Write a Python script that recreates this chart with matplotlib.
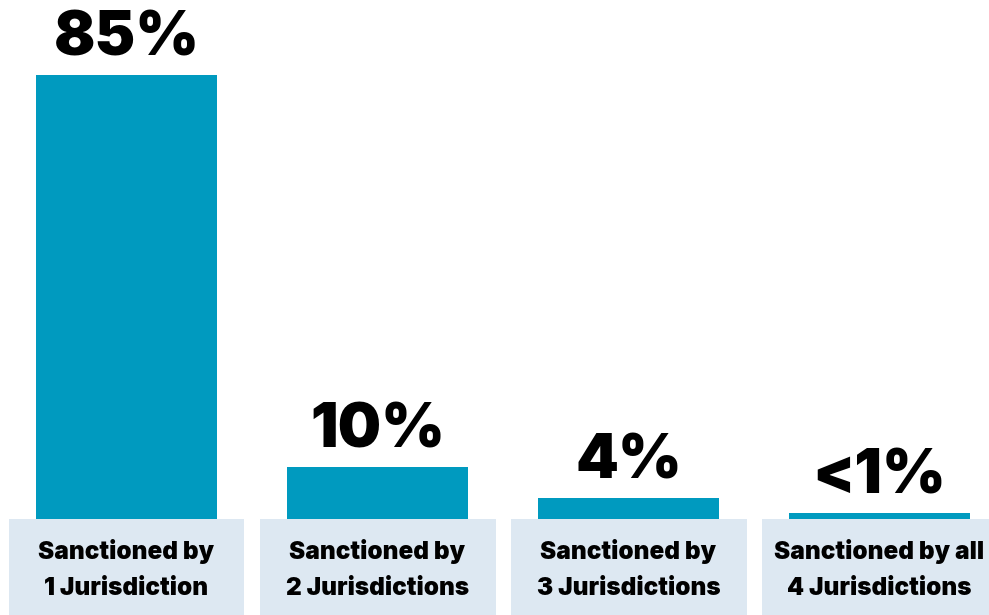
import matplotlib.pyplot as plt

# Share of sanctioned entities by number of jurisdictions
categories = [
    "Sanctioned by\n1 Jurisdiction",
    "Sanctioned by\n2 Jurisdictions",
    "Sanctioned by\n3 Jurisdictions",
    "Sanctioned by all\n4 Jurisdictions",
]
values = [85, 10, 4, 1.1]
value_labels = ["85%", "10%", "4%", "<1%"]

BAR_COLOR = "#009ABF"
BOX_COLOR = "#DDE8F2"

plt.rcParams["font.family"] = ["Inter", "DejaVu Sans"]

fig = plt.figure(figsize=(9.89, 6.15), dpi=100)
ax = fig.add_axes([0, 0, 1, 1])

x = list(range(len(categories)))
y_top = 99.4
y_bottom = -18.4

# label boxes under the bars
ax.bar(x, [-y_bottom] * len(x), bottom=y_bottom, width=0.94, color=BOX_COLOR, zorder=1)
bars = ax.bar(x, values, width=0.72, color=BAR_COLOR, zorder=2)

for xi, v, lab in zip(x, values, value_labels):
    ax.annotate(lab, (xi, v), xytext=(0, 14), textcoords="offset points",
                ha="center", va="baseline", fontsize=44, fontweight="black",
                color="black")

for xi, cat in zip(x, categories):
    ax.text(xi, -9.7, cat, ha="center", va="center", fontsize=17.5,
            fontweight="black", color="black", linespacing=1.68)

ax.set_xlim(-0.504, 3.436)
ax.set_ylim(y_bottom, y_top)
ax.axis("off")

fig.savefig("out.png", dpi=100)
